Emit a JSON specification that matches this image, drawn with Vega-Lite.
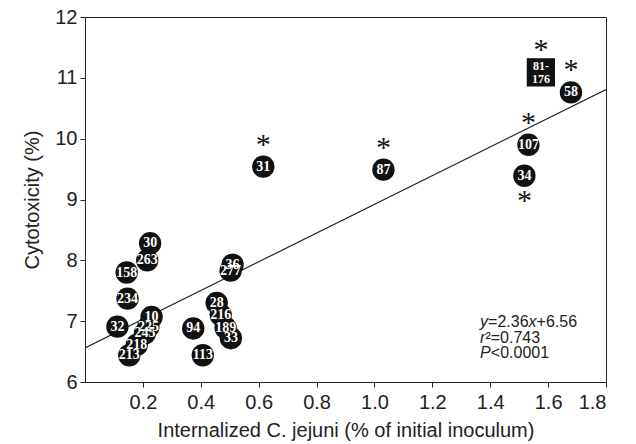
{
  "$schema": "https://vega.github.io/schema/vega-lite/v6.json",
  "width": 521,
  "height": 365,
  "autosize": {"type": "none"},
  "padding": {"left": 85, "top": 17, "right": 30, "bottom": 62},
  "background": "white",
  "config": {
    "view": {"stroke": "#222", "strokeWidth": 1},
    "axis": {
      "grid": false,
      "domainColor": "#222",
      "tickColor": "#222",
      "tickSize": 5,
      "labelFont": "Liberation Sans",
      "labelFontSize": 20,
      "labelColor": "#222",
      "titleFont": "Liberation Sans",
      "titleFontSize": 20,
      "titleFontWeight": "normal",
      "titleColor": "#222"
    }
  },
  "datasets": {
    "strains": [
      {"id": "30", "x": 0.225, "y": 8.28, "kind": "single", "star": "none"},
      {"id": "263", "x": 0.215, "y": 8.0, "kind": "single", "star": "none"},
      {"id": "158", "x": 0.144, "y": 7.8, "kind": "single", "star": "none"},
      {"id": "234", "x": 0.147, "y": 7.37, "kind": "single", "star": "none"},
      {"id": "32", "x": 0.112, "y": 6.91, "kind": "single", "star": "none"},
      {"id": "10", "x": 0.23, "y": 7.07, "kind": "single", "star": "none"},
      {"id": "225", "x": 0.219, "y": 6.91, "kind": "single", "star": "none"},
      {"id": "245", "x": 0.207, "y": 6.8, "kind": "single", "star": "none"},
      {"id": "218", "x": 0.179, "y": 6.61, "kind": "single", "star": "none"},
      {"id": "213", "x": 0.153, "y": 6.44, "kind": "single", "star": "none"},
      {"id": "94", "x": 0.374, "y": 6.88, "kind": "single", "star": "none"},
      {"id": "113", "x": 0.407, "y": 6.44, "kind": "single", "star": "none"},
      {"id": "28", "x": 0.455, "y": 7.3, "kind": "single", "star": "none"},
      {"id": "216", "x": 0.469, "y": 7.1, "kind": "single", "star": "none"},
      {"id": "189", "x": 0.486, "y": 6.89, "kind": "single", "star": "none"},
      {"id": "33", "x": 0.504, "y": 6.72, "kind": "single", "star": "none"},
      {"id": "36", "x": 0.51, "y": 7.93, "kind": "single", "star": "none"},
      {"id": "277", "x": 0.503, "y": 7.83, "kind": "single", "star": "none"},
      {"id": "31", "x": 0.616, "y": 9.54, "kind": "single", "star": "above"},
      {"id": "87", "x": 1.031, "y": 9.49, "kind": "single", "star": "above"},
      {"id": "107", "x": 1.532, "y": 9.9, "kind": "single", "star": "above"},
      {"id": "34", "x": 1.518, "y": 9.39, "kind": "single", "star": "below"},
      {"id": "58", "x": 1.679, "y": 10.76, "kind": "single", "star": "above"},
      {"id": "81-\n176", "x": 1.575, "y": 11.09, "kind": "pair", "star": "above"}
    ],
    "fit": [
      {"x": 0, "y": 6.56},
      {"x": 1.8, "y": 10.808}
    ],
    "note": [{"x": 1.365, "y1": 6.99, "y2": 6.72, "y3": 6.47}]
  },
  "layer": [
    {
      "data": {"name": "fit"},
      "mark": {"type": "line", "color": "#222", "strokeWidth": 1.2, "clip": true},
      "encoding": {
        "x": {
          "field": "x", "type": "quantitative",
          "scale": {"domain": [0, 1.8], "nice": false},
          "axis": {"values": [0.2, 0.4, 0.6, 0.8, 1.0, 1.2, 1.4, 1.6, 1.8], "format": ".1f", "labelPadding": 5, "titlePadding": 8, "title": "Internalized C. jejuni (% of initial inoculum)"}
        },
        "y": {
          "field": "y", "type": "quantitative",
          "scale": {"domain": [6, 12], "nice": false, "zero": false},
          "axis": {"values": [6, 7, 8, 9, 10, 11, 12], "format": "d", "labelPadding": 3, "titlePadding": 12, "title": "Cytotoxicity (%)"}
        }
      }
    },
    {
      "data": {"name": "strains"},
      "transform": [{"filter": "datum.kind === 'single'"}],
      "mark": {"type": "circle", "color": "#111", "opacity": 1, "size": 500},
      "encoding": {
        "x": {"field": "x", "type": "quantitative"},
        "y": {"field": "y", "type": "quantitative"}
      }
    },
    {
      "data": {"name": "strains"},
      "transform": [{"filter": "datum.kind === 'pair'"}],
      "mark": {"type": "square", "color": "#111", "opacity": 1, "size": 800},
      "encoding": {
        "x": {"field": "x", "type": "quantitative"},
        "y": {"field": "y", "type": "quantitative"}
      }
    },
    {
      "data": {"name": "strains"},
      "transform": [{"filter": "datum.kind === 'single'"}],
      "mark": {"type": "text", "color": "white", "font": "Liberation Serif", "fontWeight": "bold", "fontSize": 14, "baseline": "middle", "align": "center"},
      "encoding": {
        "x": {"field": "x", "type": "quantitative"},
        "y": {"field": "y", "type": "quantitative"},
        "text": {"field": "id"}
      }
    },
    {
      "data": {"name": "strains"},
      "transform": [{"filter": "datum.kind === 'pair'"}],
      "mark": {"type": "text", "color": "white", "font": "Liberation Serif", "fontWeight": "bold", "fontSize": 12, "baseline": "middle", "align": "center", "lineBreak": "\n", "lineHeight": 13, "dy": -6},
      "encoding": {
        "x": {"field": "x", "type": "quantitative"},
        "y": {"field": "y", "type": "quantitative"},
        "text": {"field": "id"}
      }
    },
    {
      "data": {"name": "strains"},
      "transform": [{"filter": "datum.star === 'above'"}],
      "mark": {"type": "text", "color": "#111", "font": "Liberation Serif", "fontSize": 30, "baseline": "alphabetic", "align": "center", "dy": -13, "text": "*"},
      "encoding": {
        "x": {"field": "x", "type": "quantitative"},
        "y": {"field": "y", "type": "quantitative"}
      }
    },
    {
      "data": {"name": "strains"},
      "transform": [{"filter": "datum.star === 'below'"}],
      "mark": {"type": "text", "color": "#111", "font": "Liberation Serif", "fontSize": 30, "baseline": "alphabetic", "align": "center", "dy": 34, "text": "*"},
      "encoding": {
        "x": {"field": "x", "type": "quantitative"},
        "y": {"field": "y", "type": "quantitative"}
      }
    },
    {
      "data": {"name": "note"},
      "mark": {"type": "text", "font": "Liberation Sans", "fontSize": 16, "fontStyle": "italic", "align": "left", "baseline": "middle", "color": "#222", "text": "y"},
      "encoding": {"x": {"field": "x", "type": "quantitative"}, "y": {"field": "y1", "type": "quantitative"}}
    },
    {
      "data": {"name": "note"},
      "mark": {"type": "text", "font": "Liberation Sans", "fontSize": 16, "align": "left", "baseline": "middle", "color": "#222", "text": "=2.36", "dx": 8},
      "encoding": {"x": {"field": "x", "type": "quantitative"}, "y": {"field": "y1", "type": "quantitative"}}
    },
    {
      "data": {"name": "note"},
      "mark": {"type": "text", "font": "Liberation Sans", "fontSize": 16, "fontStyle": "italic", "align": "left", "baseline": "middle", "color": "#222", "text": "x", "dx": 48.5},
      "encoding": {"x": {"field": "x", "type": "quantitative"}, "y": {"field": "y1", "type": "quantitative"}}
    },
    {
      "data": {"name": "note"},
      "mark": {"type": "text", "font": "Liberation Sans", "fontSize": 16, "align": "left", "baseline": "middle", "color": "#222", "text": "+6.56", "dx": 56.5},
      "encoding": {"x": {"field": "x", "type": "quantitative"}, "y": {"field": "y1", "type": "quantitative"}}
    },
    {
      "data": {"name": "note"},
      "mark": {"type": "text", "font": "Liberation Sans", "fontSize": 16, "fontStyle": "italic", "align": "left", "baseline": "middle", "color": "#222", "text": "r"},
      "encoding": {"x": {"field": "x", "type": "quantitative"}, "y": {"field": "y2", "type": "quantitative"}}
    },
    {
      "data": {"name": "note"},
      "mark": {"type": "text", "font": "Liberation Sans", "fontSize": 16, "align": "left", "baseline": "middle", "color": "#222", "text": "²=0.743", "dx": 5.3},
      "encoding": {"x": {"field": "x", "type": "quantitative"}, "y": {"field": "y2", "type": "quantitative"}}
    },
    {
      "data": {"name": "note"},
      "mark": {"type": "text", "font": "Liberation Sans", "fontSize": 16, "fontStyle": "italic", "align": "left", "baseline": "middle", "color": "#222", "text": "P"},
      "encoding": {"x": {"field": "x", "type": "quantitative"}, "y": {"field": "y3", "type": "quantitative"}}
    },
    {
      "data": {"name": "note"},
      "mark": {"type": "text", "font": "Liberation Sans", "fontSize": 16, "align": "left", "baseline": "middle", "color": "#222", "text": "<0.0001", "dx": 10.7},
      "encoding": {"x": {"field": "x", "type": "quantitative"}, "y": {"field": "y3", "type": "quantitative"}}
    }
  ]
}
